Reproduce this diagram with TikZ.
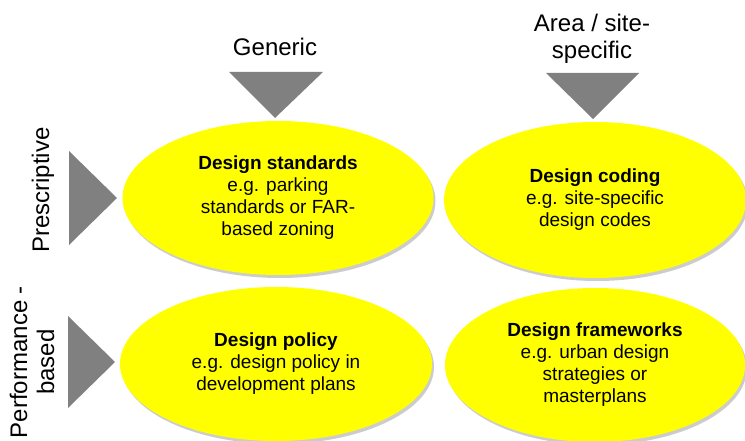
\documentclass[tikz,border=0pt]{standalone}
\usepackage{fontspec}
\setmainfont{Liberation Sans}
\usetikzlibrary{shapes.geometric,shadows}
\definecolor{tri}{RGB}{128,128,128}
\definecolor{yel}{RGB}{255,255,0}
\tikzset{
  blob/.style={ellipse, fill=yel, inner sep=0pt, align=center,
    font=\fontsize{19}{22}\selectfont,
    drop shadow={shadow xshift=2pt, shadow yshift=-3pt, opacity=0.2, fill=black}},
  head/.style={align=center, font=\fontsize{24}{27}\selectfont},
  side/.style={align=center, font=\fontsize{24}{27}\selectfont, rotate=90},
  arrowtri/.style={fill=tri, draw=none}
}
\begin{document}
\begin{tikzpicture}[x=1pt,y=-1pt]
\useasboundingbox (0,0) rectangle (745,441);
\begin{scope}
\clip (0,0) rectangle (745,441);
\node[blob, minimum width=311pt, minimum height=154pt] (std) at (278,198)
  {\textbf{Design standards}\\e.g. parking\\standards or FAR-\\based zoning};
\node[blob, minimum width=302pt, minimum height=156pt] (cod) at (595,200)
  {\textbf{Design coding}\\e.g. site-specific\\design codes};
\node[blob, minimum width=312pt, minimum height=154pt] (pol) at (276,364)
  {\textbf{Design policy}\\e.g. design policy in\\development plans};
\node[blob, minimum width=300pt, minimum height=154pt] (fra) at (595,365)
  {\textbf{Design frameworks}\\e.g. urban design\\strategies or\\masterplans};
\end{scope}
\node[head] (gen) at (275,47) {Generic};
\node[head] (area) at (592,39) {Area / site-\\specific};
\node[side] (pre) at (43,190) {Prescriptive};
\node[side] (perf) at (32,362) {Performance -\\based};
\fill[arrowtri] (229,72) -- (323,72) -- (275,118) -- cycle;
\fill[arrowtri] (546,73) -- (639,73) -- (593,119) -- cycle;
\fill[arrowtri] (69,151) -- (117,198) -- (69,245) -- cycle;
\fill[arrowtri] (68,316) -- (115,362) -- (68,408) -- cycle;
\end{tikzpicture}
\end{document}
